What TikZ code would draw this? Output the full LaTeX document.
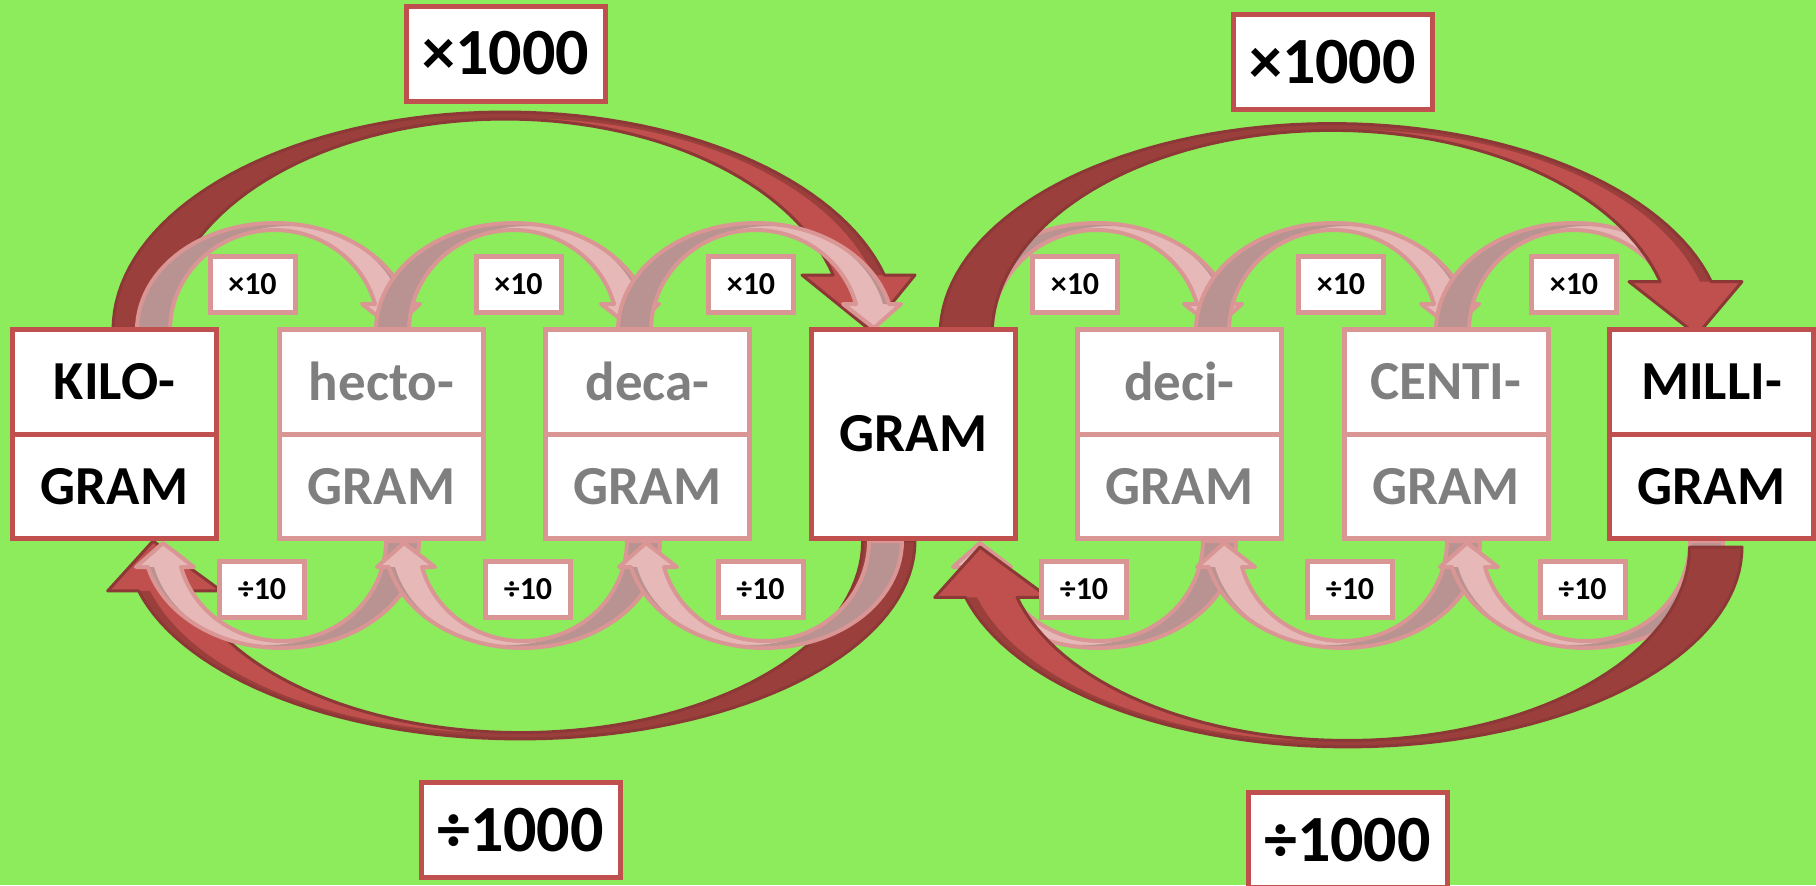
\documentclass[tikz,border=0pt]{standalone}
\usepackage{fontspec}
\setmainfont{Carlito}
\definecolor{bg}{HTML}{8CEC5B}
\definecolor{darkred}{HTML}{C0504D}
\definecolor{bigdark}{HTML}{9B3F3D}
\definecolor{bigline}{HTML}{8C3836}
\definecolor{pinkline}{HTML}{D99694}
\definecolor{pinkfill}{HTML}{E6B9B8}
\definecolor{pinkdark}{HTML}{B99391}
\definecolor{greytext}{HTML}{7F7F7F}
\newcommand\BigShape{plot[variable=\t,domain=180:14.61,samples=70] ({392+392*cos(\t)},{-218*sin(\t)}) -- (802,-55) -- (757,0) -- (689,-55) -- plot[variable=\t,domain=15.11:180,samples=70] ({392+340*cos(\t)},{-211*sin(\t)}) -- cycle}
\newcommand\BigDark{plot[variable=\t,domain=180:14.61,samples=70] ({392+392*cos(\t)},{-218*sin(\t)}) -- plot[variable=\t,domain=15.07:180,samples=70] ({412.2+360.2*cos(\t)},{-211.5*sin(\t)}) -- cycle}
\newcommand\SmallShape{plot[variable=\t,domain=180:14.06,samples=50] ({137.6+137.6*cos(\t)},{-107*sin(\t)}) -- (283,-26) -- (256,-2) -- (225,-26) -- plot[variable=\t,domain=15.07:180,samples=50] ({137.3+104.3*cos(\t)},{-100*sin(\t)}) -- cycle}
\newcommand\SmallDark{plot[variable=\t,domain=180:14.06,samples=50] ({137.6+137.6*cos(\t)},{-107*sin(\t)}) -- plot[variable=\t,domain=14.48:180,samples=50] ({150.9+117.9*cos(\t)},{-104*sin(\t)}) -- cycle}
\tikzset{
  bigarrow/.pic={
    \fill[darkred] \BigShape;
    \begin{scope}\clip \BigShape; \fill[bigdark] \BigDark;\end{scope}
    \draw[bigline,line width=1.5pt,line join=round] \BigShape;
  },
  smallarrow/.pic={
    \fill[pinkfill] \SmallShape;
    \begin{scope}\clip \SmallShape; \fill[pinkdark] \SmallDark;\end{scope}
    \draw[pinkline,line width=2pt,line join=round] \SmallShape;
  },
  halfbox/.style={draw=darkred, line width=2.5pt, fill=white, minimum width=102pt, minimum height=52.25pt, inner sep=0pt, font=\fontsize{27.5}{30}\selectfont\bfseries, text=black},
  lighthalf/.style={halfbox, draw=pinkline, text=greytext},
  fullbox/.style={halfbox, minimum height=104.5pt},
  biglabel/.style={draw=darkred, line width=2.5pt, fill=white, minimum width=99.5pt, minimum height=47.5pt, inner sep=0pt, font=\fontsize{33}{36}\selectfont\bfseries},
  smalllabel/.style={draw=pinkline, line width=2.5pt, fill=white, minimum width=42.5pt, minimum height=28pt, inner sep=0pt, font=\fontsize{16}{18}\selectfont\bfseries}
}
\begin{document}
\begin{tikzpicture}[x=0.5pt,y=-0.5pt]
\fill[bg] (0,0) rectangle (1816,885);
\useasboundingbox (0,0) rectangle (1816,885);
% big arrows, left half
\pic[shift={(113,330)}] {bigarrow};
\pic[shift={(915,541)}, xscale=-1.0066, yscale=-0.908] {bigarrow};
% small arrows, left half
\pic[shift={(137,330)}] {smallarrow};
\pic[shift={(376,330)}] {smallarrow};
\pic[shift={(618,330)}] {smallarrow};
\pic[shift={(419,541)}, xscale=-1, yscale=-1] {smallarrow};
\pic[shift={(660,541)}, xscale=-1, yscale=-1] {smallarrow};
\pic[shift={(902,541)}, xscale=-1, yscale=-1] {smallarrow};
% small arrows, right half
\pic[shift={(959,330)}] {smallarrow};
\pic[shift={(1196,330)}] {smallarrow};
\pic[shift={(1436,330)}] {smallarrow};
\pic[shift={(1236,541)}, xscale=-1, yscale=-1] {smallarrow};
\pic[shift={(1480,541)}, xscale=-1, yscale=-1] {smallarrow};
\pic[shift={(1723,541)}, xscale=-1, yscale=-1] {smallarrow};
% big arrows, right half
\pic[shift={(940,335)}, yscale=0.97] {bigarrow};
\pic[shift={(1742,547)}, xscale=-1.0066, yscale=-0.917] {bigarrow};
% unit boxes
\node[halfbox] (kiloA) at (114.5,381.75) {KILO-};
\node[halfbox] (kiloB) at (114.5,486.25) {GRAM};
\node[lighthalf] (hectoA) at (381.5,381.75) {hecto-};
\node[lighthalf] (hectoB) at (381.5,486.25) {GRAM};
\node[lighthalf] (decaA) at (647.5,381.75) {deca-};
\node[lighthalf] (decaB) at (647.5,486.25) {GRAM};
\node[fullbox] (gram) at (913.5,434) {GRAM};
\node[lighthalf] (deciA) at (1179.5,381.75) {deci-};
\node[lighthalf] (deciB) at (1179.5,486.25) {GRAM};
\node[lighthalf] (centiA) at (1446,381.75) {CENTI-};
\node[lighthalf] (centiB) at (1446,486.25) {GRAM};
\node[halfbox] (milliA) at (1711.5,381.75) {MILLI-};
\node[halfbox] (milliB) at (1711.5,486.25) {GRAM};
% big labels
\node[biglabel] (mulTL) at (506,53.5) {×1000};
\node[biglabel] (mulTR) at (1332.5,62) {×1000};
\node[biglabel] (divBL) at (520.5,830) {÷1000};
\node[biglabel] (divBR) at (1347.5,840) {÷1000};
% small labels
\node[smalllabel] (m1) at (252.5,284.5) {×10};
\node[smalllabel] (m2) at (518.5,284.5) {×10};
\node[smalllabel] (m3) at (751,284.5) {×10};
\node[smalllabel] (m4) at (1075,284.5) {×10};
\node[smalllabel] (m5) at (1341,284.5) {×10};
\node[smalllabel] (m6) at (1574,284.5) {×10};
\node[smalllabel] (d1) at (262,589.5) {÷10};
\node[smalllabel] (d2) at (528,589.5) {÷10};
\node[smalllabel] (d3) at (760.5,589.5) {÷10};
\node[smalllabel] (d4) at (1084,589.5) {÷10};
\node[smalllabel] (d5) at (1350,589.5) {÷10};
\node[smalllabel] (d6) at (1582.5,589.5) {÷10};
\end{tikzpicture}
\end{document}
